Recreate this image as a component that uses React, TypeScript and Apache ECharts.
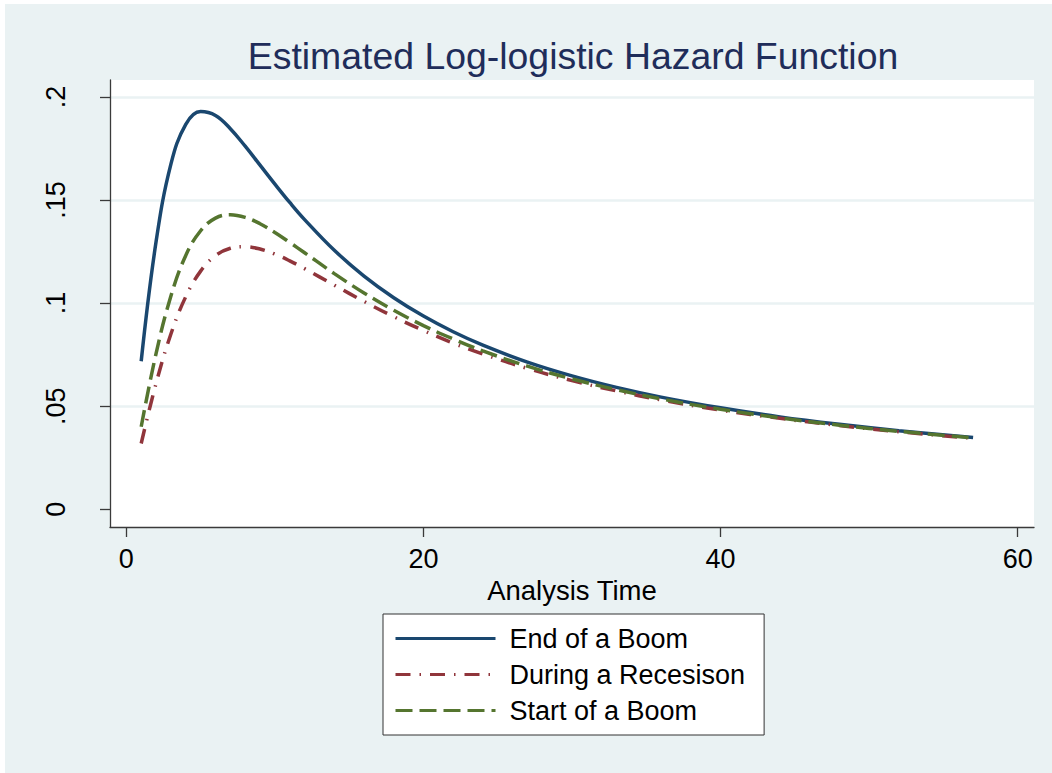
import React, { useEffect, useRef } from "react";
import * as echarts from "echarts";

// Analysis time points
const times = [1, 2, 3, 4, 5, 6, 7, 8, 9, 10, 11, 12, 14, 16, 18, 20, 22, 24, 27, 30, 33, 36, 40, 44, 48, 52, 57];

// Estimated hazard values
const endOfBoom = [0.0718, 0.1297, 0.1674, 0.1867, 0.1929, 0.191, 0.1846, 0.1761, 0.1669, 0.1577, 0.1488, 0.1405, 0.1256, 0.1131, 0.1026, 0.0937, 0.0861, 0.0796, 0.0714, 0.0647, 0.0591, 0.0544, 0.0492, 0.0448, 0.0412, 0.0381, 0.0348];
const duringRecession = [0.0319, 0.061, 0.085, 0.1031, 0.1155, 0.123, 0.1266, 0.1274, 0.1262, 0.1238, 0.1205, 0.1167, 0.1087, 0.1008, 0.0934, 0.0867, 0.0806, 0.0753, 0.0683, 0.0624, 0.0574, 0.053, 0.0481, 0.0441, 0.0406, 0.0376, 0.0344];
const startOfBoom = [0.04, 0.0755, 0.1034, 0.1231, 0.1351, 0.1412, 0.1429, 0.1416, 0.1385, 0.1342, 0.1294, 0.1244, 0.1143, 0.1049, 0.0965, 0.0891, 0.0826, 0.0768, 0.0694, 0.0632, 0.058, 0.0535, 0.0485, 0.0443, 0.0408, 0.0378, 0.0346];

const seriesNames = ["End of a Boom", "During a Recesison", "Start of a Boom"];
const xTicks = [0, 20, 40, 60];
const yTicks = [0, 0.05, 0.1, 0.15, 0.2];
const yTickLabels = ["0", ".05", ".1", ".15", ".2"];

const FONT = "'Liberation Sans', Arial, Helvetica, sans-serif";
const BG = "#EAF2F3";
const AXIS = "#3a3a3a";

export default function App() {
  const ref = useRef<HTMLDivElement>(null);

  useEffect(() => {
    document.body.style.margin = "0";
    if (!ref.current) return;
    const chart = echarts.init(ref.current, null, { renderer: "svg" });

    const mk = (vals: number[]) => times.map((t, i) => [t, vals[i]]);
    const axisLineStyle = { color: AXIS, width: 1.3 };

    chart.setOption({
      animation: false,
      backgroundColor: BG,
      textStyle: { fontFamily: FONT },
      title: {
        text: "Estimated Log-logistic Hazard Function",
        left: 563,
        top: 28,
        textAlign: "center",
        textStyle: { fontFamily: FONT, fontSize: 37.4, fontWeight: "normal", color: "#1f2d5a" },
      },
      grid: {
        left: 105,
        top: 76,
        right: 18,
        bottom: 246,
        show: true,
        backgroundColor: "#ffffff",
        borderWidth: 0,
      },
      legend: {
        orient: "vertical",
        left: 378,
        top: 610,
        padding: [11, 19, 11, 11],
        itemWidth: 100,
        itemHeight: 14,
        itemGap: 9,
        backgroundColor: "#ffffff",
        borderColor: "#333333",
        borderWidth: 1,
        borderRadius: 0,
        lineStyle: { width: 3 },
        itemStyle: { color: "transparent", borderColor: "transparent", borderWidth: 0, opacity: 0 },
        textStyle: { fontFamily: FONT, fontSize: 27, color: "#000", lineHeight: 27, padding: [0, 0, 0, 9] },
        data: seriesNames,
      },
      xAxis: {
        type: "value",
        min: -1.1,
        max: 61.1,
        name: "Analysis Time",
        nameLocation: "middle",
        nameGap: 41,
        nameTextStyle: { fontFamily: FONT, fontSize: 27.5, color: "#000" },
        axisLine: { show: true, onZero: false, lineStyle: axisLineStyle },
        axisTick: { show: true, length: 10, customValues: xTicks, lineStyle: axisLineStyle },
        axisLabel: { customValues: xTicks, margin: 18, fontFamily: FONT, fontSize: 27, color: "#000" },
        splitLine: { show: false },
      },
      yAxis: {
        type: "value",
        min: -0.0086,
        max: 0.2082,
        axisLine: { show: true, onZero: false, lineStyle: axisLineStyle },
        axisTick: { show: true, length: 10, customValues: yTicks, lineStyle: axisLineStyle },
        axisLabel: {
          customValues: yTicks,
          rotate: 90,
          margin: 41,
          fontFamily: FONT,
          fontSize: 27,
          color: "#000",
          formatter: (v: number) => {
            const i = yTicks.findIndex((t) => Math.abs(t - v) < 1e-9);
            return i >= 0 ? yTickLabels[i] : "";
          },
        },
        splitLine: {
          show: true,
          lineStyle: { color: ["#ffffff", BG, BG, BG, BG], width: 2.5 },
        },
      },
      series: [
        {
          name: seriesNames[0],
          type: "line",
          data: mk(endOfBoom),
          smooth: 0.4,
          symbol: "none",
          lineStyle: { color: "#1A476F", width: 3.5 },
          itemStyle: { color: "#1A476F" },
          z: 2,
        },
        {
          name: seriesNames[1],
          type: "line",
          data: mk(duringRecession),
          smooth: 0.4,
          symbol: "none",
          lineStyle: { color: "#90353B", width: 3.5, type: [15, 9, 1.5, 9] },
          itemStyle: { color: "#90353B" },
          z: 3,
        },
        {
          name: seriesNames[2],
          type: "line",
          data: mk(startOfBoom),
          smooth: 0.4,
          symbol: "none",
          lineStyle: { color: "#55752F", width: 3.5, type: [17, 7] },
          itemStyle: { color: "#55752F" },
          z: 4,
        },
      ],
    });

    return () => chart.dispose();
  }, []);

  return (
    <div style={{ position: "relative", width: 1052, height: 773, background: "#ffffff" }}>
      <div ref={ref} style={{ position: "absolute", left: 5, top: 4, width: 1047, height: 769 }} />
    </div>
  );
}
